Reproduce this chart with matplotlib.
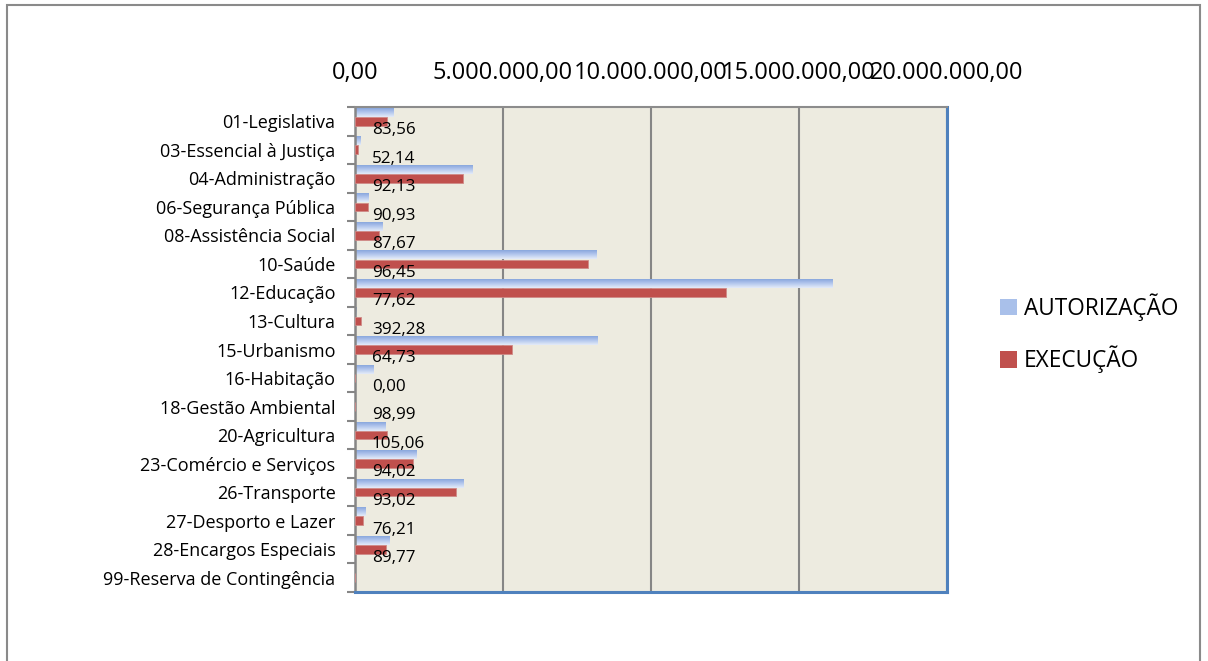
import numpy as np
import matplotlib.pyplot as plt
from matplotlib.colors import LinearSegmentedColormap
from matplotlib.patches import Rectangle, Patch

plt.rcParams['font.family'] = ['Open Sans', 'DejaVu Sans']

funcoes = ["01-Legislativa", "03-Essencial à Justiça", "04-Administração",
           "06-Segurança Pública", "08-Assistência Social", "10-Saúde",
           "12-Educação", "13-Cultura", "15-Urbanismo", "16-Habitação",
           "18-Gestão Ambiental", "20-Agricultura", "23-Comércio e Serviços",
           "26-Transporte", "27-Desporto e Lazer", "28-Encargos Especiais",
           "99-Reserva de Contingência"]
autorizacao = [1300000, 170000, 3970000, 470000, 930000, 8160000, 16150000,
               50000, 8200000, 640000, 10000, 1040000, 2090000, 3650000,
               370000, 1180000, 0]
execucao = [1090000, 90000, 3660000, 430000, 820000, 7870000, 12540000,
            200000, 5310000, 0, 10000, 1090000, 1970000, 3400000,
            280000, 1060000, 0]
percentuais = ["83,56", "52,14", "92,13", "90,93", "87,67", "96,45", "77,62",
               "392,28", "64,73", "0,00", "98,99", "105,06", "94,02", "93,02",
               "76,21", "89,77", ""]
xticks = [0, 5000000, 10000000, 15000000, 20000000]


def fmt_br(v):
    s = f"{v:,.2f}"
    return s.replace(",", "X").replace(".", ",").replace("X", ".")


fig = plt.figure(figsize=(12.08, 6.61), dpi=100)
ax = fig.add_axes([0.2939, 0.1044, 0.4900, 0.7337])
ax.set_facecolor("#EDEBE0")

y = np.arange(len(funcoes))
h = 0.305
blue_cmap = LinearSegmentedColormap.from_list("azul", ["#8AA7DD", "#B5C8EE", "#E4EBF8"])
grad = np.linspace(0, 1, 32).reshape(-1, 1)

# barras de autorizacao com degradê
for yi, a in zip(y, autorizacao):
    if a <= 0:
        continue
    y0 = yi - 0.31 - h / 2
    ax.imshow(grad, cmap=blue_cmap, extent=[0, a, y0 + h, y0],
              origin="upper", aspect="auto", zorder=2, interpolation="bilinear")

ax.barh(y, execucao, height=h, color="#C0504D", edgecolor="#D08A88",
        linewidth=0.6, zorder=3)

for yi, p in zip(y, percentuais):
    ax.text(570000, yi + 0.31, p, ha="left", va="center", fontsize=12.3,
            color="black", zorder=4)

ax.set_xlim(0, 20000000)
ax.set_ylim(len(funcoes) - 0.5, -0.5)

ax.set_xticks(xticks)
ax.set_xticklabels([fmt_br(v) for v in xticks])
ax.xaxis.tick_top()
ax.tick_params(axis="x", length=0, pad=16, labelsize=17)
ax.grid(axis="x", color="#868686", linewidth=1.5, zorder=1)
ax.set_axisbelow(True)

ax.set_yticks(np.arange(len(funcoes) + 1) - 0.5)
ax.set_yticklabels([])
ax.set_yticks(y, minor=True)
ax.set_yticklabels(funcoes, minor=True)
ax.tick_params(axis="y", which="major", length=6, width=1.5, color="#868686")
ax.tick_params(axis="y", which="minor", length=0, pad=14, labelsize=13)

ax.spines["left"].set_color("#868686")
ax.spines["left"].set_linewidth(1.8)
ax.spines["top"].set_color("#8C8C8C")
ax.spines["top"].set_linewidth(1.5)
ax.spines["bottom"].set_color("#4F81BD")
ax.spines["bottom"].set_linewidth(2.2)
ax.spines["right"].set_color("#4F81BD")
ax.spines["right"].set_linewidth(2.2)

handles = [Patch(facecolor="#A9C0EA", edgecolor="none"),
           Patch(facecolor="#C0504D", edgecolor="none")]
fig.legend(handles, ["AUTORIZAÇÃO", "EXECUÇÃO"], loc="center left",
           bbox_to_anchor=(0.811, 0.496), frameon=False, fontsize=16.3,
           handlelength=0.75, handleheight=0.75, handletextpad=0.3,
           labelspacing=1.1)

fig.patches.append(Rectangle((7 / 1208, -0.02), 1193 / 1208, 1.02 - 5 / 661,
                             transform=fig.transFigure, fill=False,
                             edgecolor="#8A8A8A", linewidth=1.5))

fig.savefig("out.png", dpi=100)
